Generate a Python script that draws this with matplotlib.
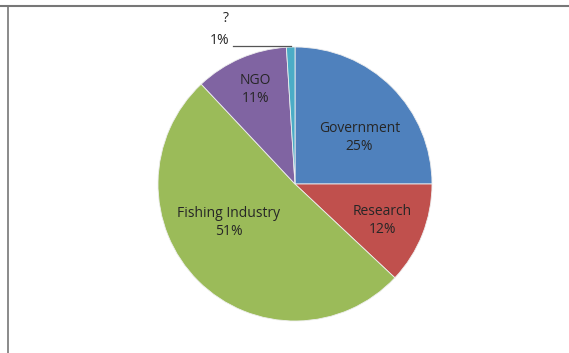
import numpy as np
import matplotlib.pyplot as plt
from matplotlib.lines import Line2D

# 数据
labels = ["Government", "Research", "Fishing Industry", "NGO", "?"]
shares = [25, 12, 51, 11, 1]
colors = ["#4F81BD", "#C0504D", "#9BBB59", "#8064A2", "#4BACC6"]

# 标签位置 (半径比例, 角度)
label_r = [0.58, 0.69, 0.56, 0.75]
label_ang = [36, -22.5, -150, 112.8]

plt.rcParams["font.family"] = ["Open Sans", "DejaVu Sans"]

fig = plt.figure(figsize=(5.69, 3.53), dpi=100)
ax = fig.add_axes([0, 0, 1, 1])

cx, cy, R = 295, 169, 137
ax.pie(shares, colors=colors, startangle=90, counterclock=False,
       radius=R, center=(cx, cy),
       wedgeprops=dict(linewidth=0.6, edgecolor="#EEEEEE"))
ax.set_xlim(0, 569)
ax.set_ylim(0, 353)
ax.set_aspect("equal")
ax.axis("off")

for i in range(4):
    a = np.deg2rad(label_ang[i])
    x = cx + label_r[i] * R * np.cos(a)
    y = cy + label_r[i] * R * np.sin(a)
    ax.text(x, y, f"{labels[i]}\n{shares[i]}%", ha="center", va="center",
            fontsize=10, color="#262626", linespacing=1.25)

# 小扇区的引线标签
ax.text(226, 335, labels[4], ha="center", va="center", fontsize=10, color="#262626")
ax.text(220, 313, f"{shares[4]}%", ha="center", va="center", fontsize=10, color="#262626")
ax.plot([233, 291], [307, 307], color="#555555", lw=0.9)

# 边框线
fig.add_artist(Line2D([0, 1], [1 - 5.5 / 353] * 2, color="#777777", lw=1.5))
fig.add_artist(Line2D([8 / 569] * 2, [0, 1 - 5.5 / 353], color="#777777", lw=1.2))

fig.savefig("out.png", dpi=100)
